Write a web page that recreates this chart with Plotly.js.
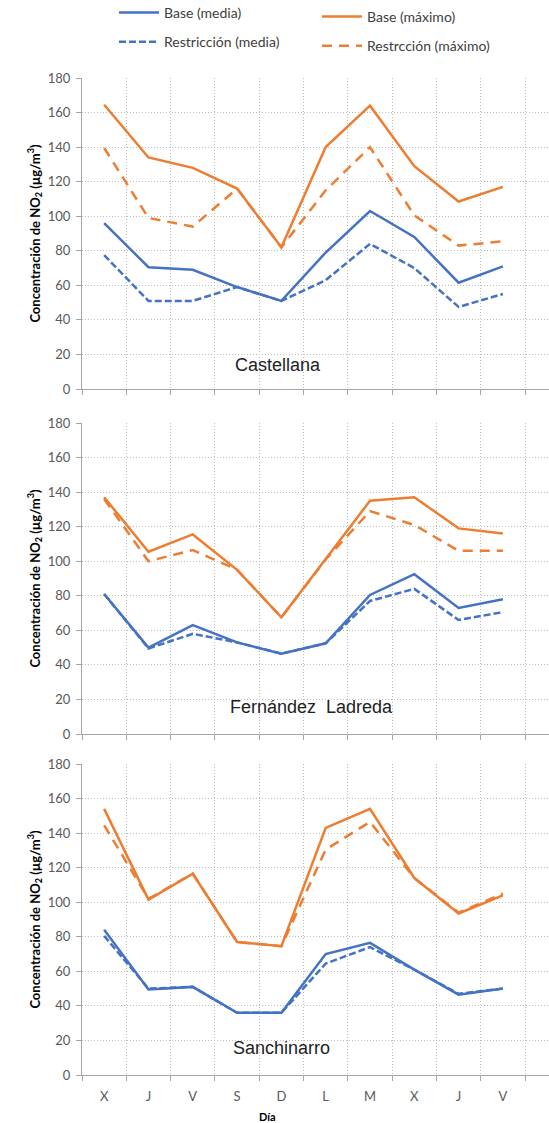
<!DOCTYPE html>
<html><head><meta charset="utf-8">
<script src="https://cdn.plot.ly/plotly-3.0.1.min.js"></script>
<style>html,body{margin:0;padding:0;background:#fff}</style>
</head><body><div id="chart" style="width:549px;height:1123px"></div>
<script>
// ---- data ----
const dayLabels = ['X','J','V','S','D','L','M','X','J','V'];
const stations = ['Castellana','Fernández  Ladreda','Sanchinarro'];
const seriesNames = ['Base (media)','Restricción (media)','Base (máximo)','Restrcción (máximo)'];

const castellanaBaseMedia   = [96, 70.5, 69, 59, 51, 79, 103, 88, 61.5, 71];
const castellanaRestMedia   = [77.5, 51, 51, 59, 51, 63, 84, 70, 47.5, 55];
const castellanaBaseMax     = [164.5, 134, 128, 116, 82, 140, 164, 129, 108.5, 117];
const castellanaRestMax     = [139.5, 99, 94, 116, 82, 115, 140, 100.5, 83, 85.5];

const ladredaBaseMedia      = [81, 50, 63, 53, 46.5, 52.5, 80.5, 92.5, 73, 78];
const ladredaRestMedia      = [81, 49.5, 58, 53, 46.5, 52.5, 77, 84, 66, 70.5];
const ladredaBaseMax        = [137, 105.5, 115.5, 95, 67.5, 101, 135, 137, 119, 116];
const ladredaRestMax        = [136, 100, 106.5, 95, 67.5, 101, 129, 121, 106, 106];

const sanchinarroBaseMedia  = [84, 49.5, 51, 36, 36, 70, 76.5, 61, 46.5, 50];
const sanchinarroRestMedia  = [80.5, 50, 51, 36, 36, 64.5, 74, 61, 47, 50];
const sanchinarroBaseMax    = [154, 101.5, 116.5, 77, 74.5, 143, 154, 114, 93.5, 104];
const sanchinarroRestMax    = [144.5, 102, 116.5, 77, 74.5, 130.5, 146.5, 114, 94, 105];

const panels = [
  [castellanaBaseMedia, castellanaRestMedia, castellanaBaseMax, castellanaRestMax],
  [ladredaBaseMedia, ladredaRestMedia, ladredaBaseMax, ladredaRestMax],
  [sanchinarroBaseMedia, sanchinarroRestMedia, sanchinarroBaseMax, sanchinarroRestMax]
];

// ---- styling ----
const W = 549, H = 1123, L = 82;
const BLUE = '#4472C4', ORANGE = '#ED7D31';
const styles = [
  {color: BLUE, dash: 'solid', legend: 'legend'},
  {color: BLUE, dash: '7px,3px', legend: 'legend'},
  {color: ORANGE, dash: 'solid', legend: 'legend2'},
  {color: ORANGE, dash: '10px,7px', legend: 'legend2'}
];
const px2x = p => (p - L) / (W - L);
const py2y = p => 1 - p / H;
const panelPx = [[78, 389], [423, 734], [764, 1075]];

const xIdx = dayLabels.map((d, i) => i);
const traces = [];
panels.forEach((pan, pi) => {
  pan.forEach((vals, si) => {
    const st = styles[si];
    traces.push({
      type: 'scatter', mode: 'lines',
      x: xIdx, y: vals,
      name: seriesNames[si],
      xaxis: pi === 0 ? 'x' : 'x' + (pi + 1),
      yaxis: pi === 0 ? 'y' : 'y' + (pi + 1),
      line: {color: st.color, width: 2.5, dash: st.dash},
      showlegend: pi === 0,
      legend: st.legend,
      legendgroup: seriesNames[si]
    });
  });
});

const tickFont = {family: 'Lato, sans-serif', size: 13, color: '#595959'};
const legFont = {family: 'Lato, sans-serif', size: 14, color: '#404040'};
const layout = {
  width: W, height: H,
  margin: {l: L, r: 0, t: 0, b: 0, autoexpand: false},
  paper_bgcolor: '#fff', plot_bgcolor: '#fff',
  font: {family: 'Lato, sans-serif', color: '#404040'},
  legend: {x: px2x(114), y: py2y(-3), xanchor: 'left', yanchor: 'top', orientation: 'v', itemwidth: 40,
           font: legFont, tracegroupgap: 8, bgcolor: 'rgba(0,0,0,0)'},
  legend2: {x: px2x(317), y: py2y(1), xanchor: 'left', yanchor: 'top', orientation: 'v', itemwidth: 40,
           font: legFont, tracegroupgap: 8, bgcolor: 'rgba(0,0,0,0)'},
  annotations: [],
  showlegend: true
};

panelPx.forEach((pp, pi) => {
  const sfx = pi === 0 ? '' : String(pi + 1);
  layout['xaxis' + sfx] = {
    domain: [0, 1], anchor: 'y' + sfx,
    range: [-0.5, 10.04],
    tickmode: 'array', tickvals: xIdx, ticktext: dayLabels,
    showticklabels: pi === 2, ticks: '', showgrid: false,
    tickfont: tickFont, ticklabelstandoff: 9,
    showline: true, linecolor: '#A6A6A6', linewidth: 1,
    zeroline: false, fixedrange: true, automargin: false,
    minor: {tickmode: 'linear', tick0: -0.5, dtick: 1, ticks: 'outside', ticklen: 5, tickcolor: '#A6A6A6',
            showgrid: true, gridcolor: '#BDBDBD', griddash: '1px,2px', gridwidth: 1}
  };
  layout['yaxis' + sfx] = {
    domain: [py2y(pp[1]), py2y(pp[0])], anchor: 'x' + sfx,
    range: [0, 180], dtick: 20, tick0: 0,
    ticks: 'outside', ticklen: 5, tickcolor: '#A6A6A6',
    tickfont: tickFont, ticklabelstandoff: 3,
    showgrid: true, gridcolor: '#BDBDBD', griddash: '1px,2px', gridwidth: 1,
    showline: true, linecolor: '#A6A6A6', linewidth: 1, zeroline: false,
    automargin: true,
    title: {text: 'Concentración de NO<sub>2</sub> (µg/m<sup>3</sup>)', standoff: 4,
            font: {family: 'Lato, sans-serif', size: 13, color: '#000', weight: 'bold'}}
  };
});

const namePos = [[278, 365], [311, 707], [281, 1048]];
stations.forEach((s, i) => {
  layout.annotations.push({
    text: s, xref: 'paper', yref: 'paper', x: px2x(namePos[i][0]), y: py2y(namePos[i][1]),
    xanchor: 'center', yanchor: 'middle', showarrow: false,
    font: {family: 'Liberation Sans, Arial, sans-serif', size: 18, color: '#222'}
  });
});
layout.annotations.push({
  text: '<b>Día</b>', xref: 'paper', yref: 'paper', x: px2x(267), y: py2y(1116),
  xanchor: 'center', yanchor: 'middle', showarrow: false,
  font: {family: 'Lato, sans-serif', size: 11, color: '#000'}
});

Plotly.newPlot('chart', traces, layout, {displayModeBar: false, staticPlot: true});
</script></body></html>
